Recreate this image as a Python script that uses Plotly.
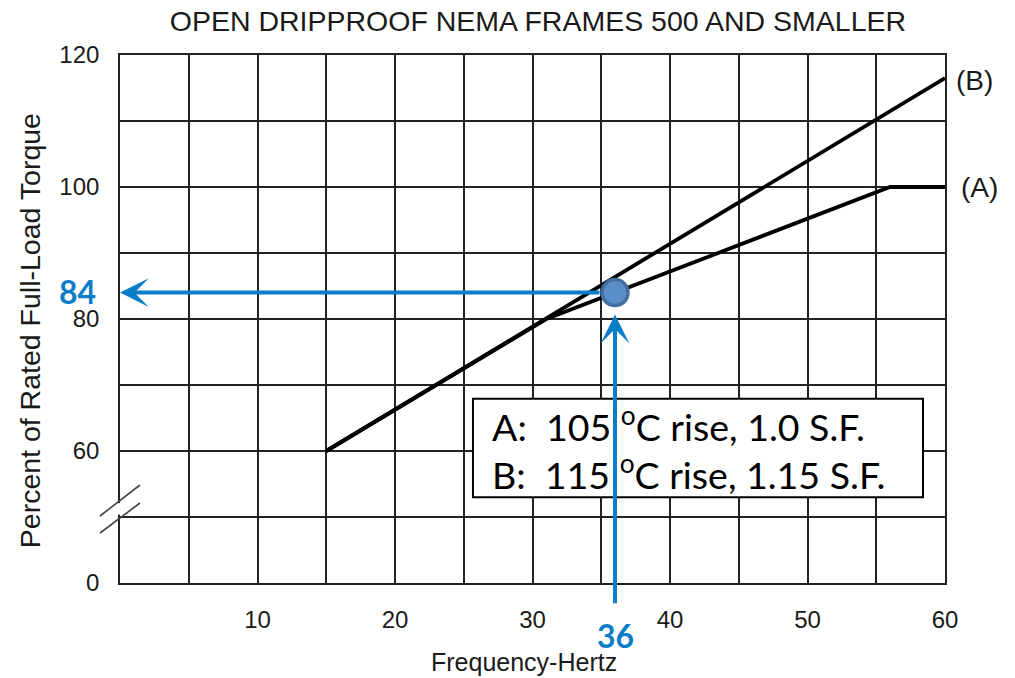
import plotly.graph_objects as go

# ---- data ----
freq_a = [15, 31, 56, 60]
torque_a = [60, 80, 100, 100]
freq_b = [15, 60]
torque_b = [60, 116.5]
point_x = [36]
point_y = [84]
x_tick_vals = [10, 20, 30, 40, 50, 60]
x_tick_text = ["10", "20", "30", "40", "50", "60"]
y_tick_vals = [40, 60, 80, 100, 120]
y_tick_text = ["0", "60", "80", "100", "120"]
legend_lines = ["A:\u00a0\u00a0105 <sup>o</sup>C rise, 1.0 S.F.",
                "B:\u00a0\u00a0115 <sup>o</sup>C rise, 1.15 S.F."]
curve_labels = ["(A)", "(B)"]

X_RANGE = [0, 60]
Y_RANGE = [40, 120]

BLUE = "#0A7DC9"
INK = "#1a1a1a"
ARIAL = "Liberation Sans, Arial, sans-serif"
CAL = "Lato, Carlito, Calibri, sans-serif"

fig = go.Figure()
fig.add_trace(go.Scatter(x=freq_a, y=torque_a, mode="lines",
                         line=dict(color="black", width=3.8), showlegend=False,
                         hoverinfo="skip"))
fig.add_trace(go.Scatter(x=freq_b, y=torque_b, mode="lines",
                         line=dict(color="black", width=3.8), showlegend=False,
                         hoverinfo="skip"))
fig.add_trace(go.Scatter(x=point_x, y=point_y, mode="markers",
                         marker=dict(size=26, color="#5B8DC9",
                                     line=dict(color="#41709F", width=3.5)),
                         showlegend=False, cliponaxis=False))

grid = dict(showgrid=True, gridcolor="#222222", gridwidth=1.6)
fig.update_xaxes(range=X_RANGE, tickmode="array", tickvals=x_tick_vals,
                 ticktext=x_tick_text, **grid,
                 minor=dict(dtick=5, tick0=0, showgrid=True, gridcolor="#222222", gridwidth=1.6),
                 zeroline=False, showline=True, mirror=True, linecolor="#222222", linewidth=1.6,
                 ticks="", tickfont=dict(family=ARIAL, size=24, color=INK),
                 ticklabelstandoff=14, fixedrange=True)
fig.update_yaxes(range=Y_RANGE, tickmode="array", tickvals=y_tick_vals,
                 ticktext=y_tick_text, **grid,
                 minor=dict(dtick=10, tick0=40, showgrid=True, gridcolor="#222222", gridwidth=1.6),
                 zeroline=False, showline=True, mirror=True, linecolor="#222222", linewidth=1.6,
                 ticks="", tickfont=dict(family=ARIAL, size=24, color=INK),
                 ticklabelstandoff=14, fixedrange=True)

shapes = []
# axis break: white gap on left axis line, then two slashes
shapes.append(dict(type="rect", xref="paper", yref="y", x0=-0.012, x1=0.008,
                   y0=50.35, y1=52.1, fillcolor="white", line=dict(width=0), layer="above"))
shapes.append(dict(type="line", xref="paper", yref="paper", x0=-0.0242, y0=0.1269,
                   x1=0.0242, y1=0.1856, line=dict(color="#444", width=1.6), layer="above"))
shapes.append(dict(type="line", xref="paper", yref="paper", x0=-0.0242, y0=0.0947,
                   x1=0.0242, y1=0.1515, line=dict(color="#444", width=1.6), layer="above"))
# legend box
shapes.append(dict(type="rect", xref="x", yref="y", x0=25.67, x1=58.4, y0=53.0, y1=67.9,
                   fillcolor="white", line=dict(color="black", width=2), layer="above"))
fig.update_layout(shapes=shapes)

ann = []
# legend text
for i, t in enumerate(legend_lines):
    ann.append(dict(x=26.9, y=[64.1, 56.8][i], xref="x", yref="y", text=t, showarrow=False,
                    xanchor="left", yanchor="middle",
                    font=dict(family=CAL, size=37.5, color="black")))
# curve labels
ann.append(dict(x=freq_a[-1], y=torque_a[-1], xref="x", yref="y", text=curve_labels[0],
                showarrow=False, xanchor="left", yanchor="middle", xshift=14,
                font=dict(family=ARIAL, size=28, color=INK)))
ann.append(dict(x=freq_b[-1], y=torque_b[-1], xref="x", yref="y", text=curve_labels[1],
                showarrow=False, xanchor="left", yanchor="middle", xshift=9, yshift=-2,
                font=dict(family=ARIAL, size=28, color=INK)))
# horizontal arrow to y axis
ann.append(dict(x=X_RANGE[0], y=point_y[0], ax=point_x[0], ay=point_y[0], xref="x", yref="y",
                axref="x", ayref="y", text="", showarrow=True, arrowhead=3, arrowsize=1.2,
                arrowwidth=4, arrowcolor=BLUE, startstandoff=14))
# vertical arrow from x axis
ann.append(dict(x=point_x[0], y=point_y[0], ax=point_x[0], ay=36.7, xref="x", yref="y",
                axref="x", ayref="y", text="", showarrow=True, arrowhead=3, arrowsize=1.2,
                arrowwidth=4, arrowcolor=BLUE, standoff=22))
# value labels
ann.append(dict(x=X_RANGE[0], y=point_y[0], xref="x", yref="y", text="<b>%d</b>" % point_y[0],
                showarrow=False, xanchor="center", yanchor="middle", xshift=-43, yshift=1,
                font=dict(family=CAL, size=32, color=BLUE)))
ann.append(dict(x=point_x[0], y=Y_RANGE[0], xref="x", yref="y", text="<b>%d</b>" % point_x[0],
                showarrow=False, xanchor="center", yanchor="middle", yshift=-52,
                font=dict(family=CAL, size=32, color=BLUE)))
# axis titles
ann.append(dict(x=-0.109, y=0.477, xref="paper", yref="paper",
                text="Percent of Rated Full-Load Torque", textangle=-90, showarrow=False,
                xanchor="center", yanchor="middle", font=dict(family=ARIAL, size=28.5, color=INK)))
ann.append(dict(x=0.49, y=-0.15, xref="paper", yref="paper", text="Frequency-Hertz",
                showarrow=False, xanchor="center", yanchor="middle",
                font=dict(family=ARIAL, size=25, color=INK)))

fig.update_layout(
    annotations=ann,
    width=1015, height=678,
    margin=dict(l=120, r=70, t=55, b=95),
    paper_bgcolor="white", plot_bgcolor="white",
    title=dict(text="OPEN DRIPPROOF NEMA FRAMES 500 AND SMALLER", x=0.53, xanchor="center",
               y=1 - 21 / 678, yanchor="middle", font=dict(family=ARIAL, size=28.5, color=INK)),
    showlegend=False,
)

fig.write_html("out.html", config={"displayModeBar": False},
               post_script="document.body.style.margin='0';")
